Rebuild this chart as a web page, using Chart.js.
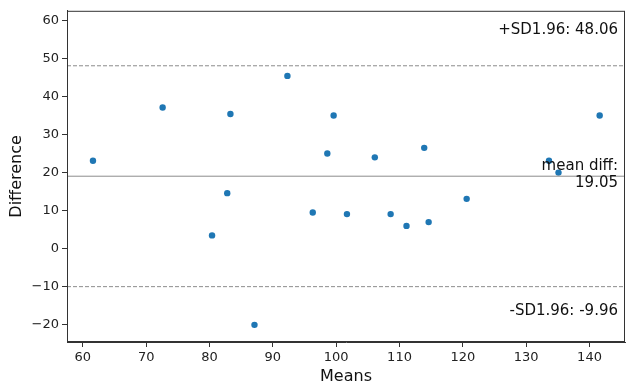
<!DOCTYPE html>
<html lang="en">
<head>
    <meta charset="UTF-8">
    <title>Bland-Altman Plot</title>
    <script src="https://cdn.jsdelivr.net/npm/chart.js"></script>
    <style>
        body, html {
            margin: 0;
            padding: 0;
            background: #fff;
        }
        #wrap {
            width: 631px;
            height: 392px;
        }
    </style>
</head>
<body>
    <div id="wrap"><canvas id="baChart"></canvas></div>

    <script>
        // means (x) and differences (y)
        const means = [61.6, 72.6, 80.4, 82.8, 83.3, 87.1, 92.3, 96.3, 98.6, 99.6,
                       101.7, 106.1, 108.6, 111.1, 113.9, 114.6, 120.6, 133.6, 135.1, 141.6];
        const diffs = [23.1, 37.1, 3.5, 14.6, 35.4, -20.0, 45.4, 9.5, 25.0, 35.0,
                       9.1, 24.0, 9.1, 6.0, 26.5, 7.0, 13.1, 23.1, 20.0, 35.0];
        const meanDiff = 19.05;
        const upperSD = 48.06;
        const lowerSD = -9.96;
        const xRange = [57.5, 145.6];
        const yRange = [-24.5, 62.5];

        const points = means.map((m, i) => ({ x: m, y: diffs[i] }));
        const hline = v => [{ x: xRange[0], y: v }, { x: xRange[1], y: v }];

        const fontFamily = '"DejaVu Sans", sans-serif';
        const minus = v => String(v).replace('-', '\u2212');

        // box round the plot area + text labels
        const extras = {
            id: 'extras',
            afterDraw(chart) {
                const c = chart.ctx;
                const a = chart.chartArea;
                c.save();
                c.strokeStyle = '#333';
                c.lineWidth = 1;
                c.strokeRect(a.left + 0.5, a.top + 0.5, a.right - a.left - 1, a.bottom - a.top - 1);

                c.fillStyle = '#111';
                c.font = '15px ' + fontFamily;
                c.textAlign = 'right';
                c.textBaseline = 'middle';
                const tx = a.right - 7;
                c.fillText('+SD1.96: ' + upperSD.toFixed(2), tx, 30);
                c.fillText('mean diff:', tx, 166);
                c.fillText(meanDiff.toFixed(2), tx, 183);
                c.fillText('-SD1.96: ' + lowerSD.toFixed(2), tx, 311);
                c.restore();
            }
        };

        const ctx = document.getElementById('baChart').getContext('2d');
        new Chart(ctx, {
            type: 'scatter',
            data: {
                datasets: [
                    {
                        type: 'line',
                        data: hline(upperSD),
                        borderColor: '#8c8c8c',
                        borderWidth: 1,
                        borderDash: [4, 2],
                        pointRadius: 0
                    },
                    {
                        type: 'line',
                        data: hline(meanDiff),
                        borderColor: '#8c8c8c',
                        borderWidth: 1,
                        pointRadius: 0
                    },
                    {
                        type: 'line',
                        data: hline(lowerSD),
                        borderColor: '#8c8c8c',
                        borderWidth: 1,
                        borderDash: [4, 2],
                        pointRadius: 0
                    },
                    {
                        data: points,
                        backgroundColor: '#1f77b4',
                        borderColor: '#1f77b4',
                        pointRadius: 3.2,
                        borderWidth: 0
                    }
                ]
            },
            options: {
                responsive: true,
                maintainAspectRatio: false,
                animation: false,
                layout: { padding: { left: 0, top: 9, right: 6, bottom: 0 } },
                plugins: {
                    legend: { display: false },
                    tooltip: { enabled: false }
                },
                scales: {
                    x: {
                        type: 'linear',
                        min: xRange[0],
                        max: xRange[1],
                        afterFit: s => { s.height = 50; },
                        grid: { drawOnChartArea: false, tickLength: 5, color: '#333', tickColor: '#333' },
                        border: { color: '#333' },
                        ticks: {
                            stepSize: 10,
                            includeBounds: false,
                            padding: 3,
                            color: '#222',
                            font: { family: fontFamily, size: 13 },
                            maxRotation: 0,
                            callback: v => minus(v)
                        },
                        title: {
                            display: true,
                            text: 'Means',
                            color: '#111',
                            font: { family: fontFamily, size: 16 },
                            padding: { top: 0, bottom: 6 }
                        }
                    },
                    y: {
                        min: yRange[0],
                        max: yRange[1],
                        afterFit: s => { s.width = 67; },
                        grid: { drawOnChartArea: false, tickLength: 5, color: '#333', tickColor: '#333' },
                        border: { color: '#333' },
                        ticks: {
                            stepSize: 10,
                            includeBounds: false,
                            padding: 3,
                            color: '#222',
                            font: { family: fontFamily, size: 13 },
                            callback: v => minus(v)
                        },
                        title: {
                            display: true,
                            text: 'Difference',
                            color: '#111',
                            font: { family: fontFamily, size: 16 },
                            padding: { top: 7, bottom: 0 }
                        }
                    }
                }
            },
            plugins: [extras]
        });
    </script>
</body>
</html>
